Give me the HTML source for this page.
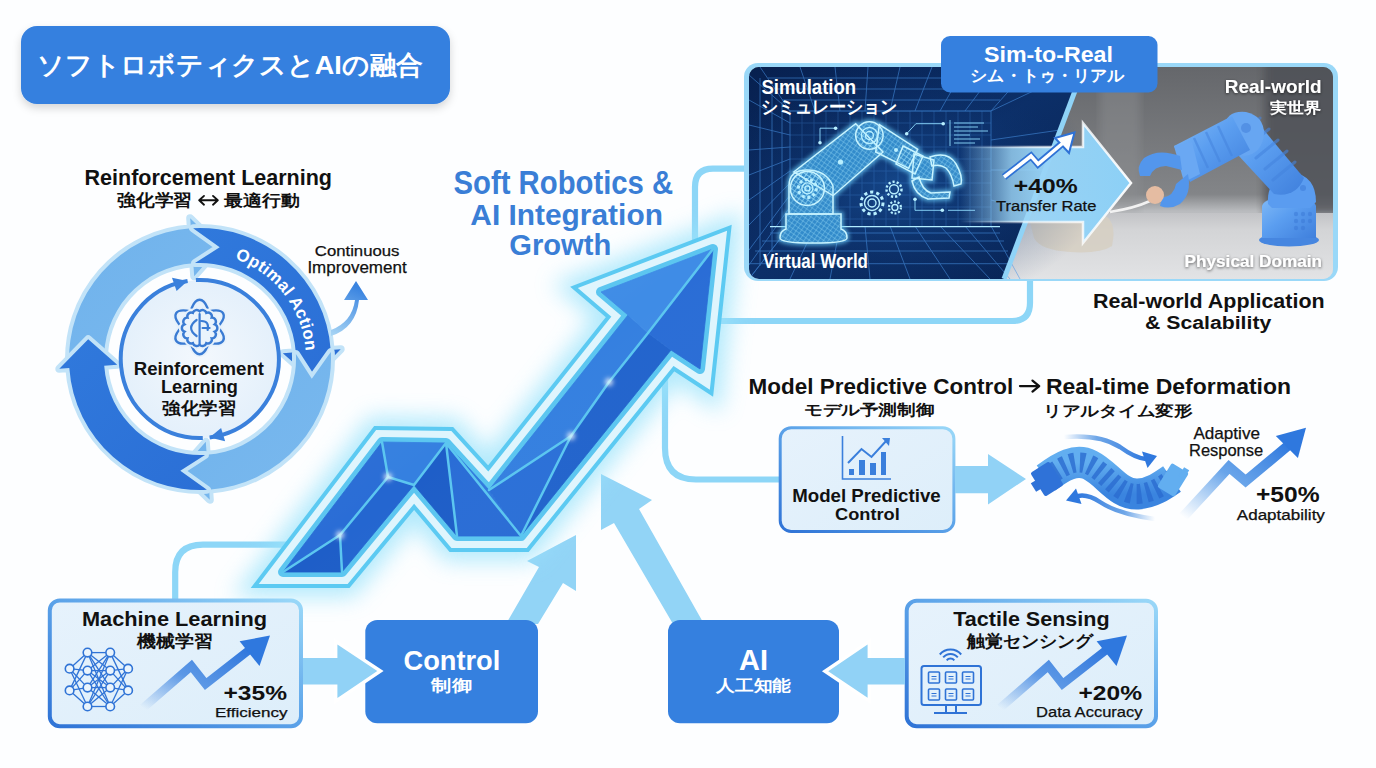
<!DOCTYPE html>
<html><head><meta charset="utf-8">
<style>
html,body{margin:0;padding:0;width:1376px;height:768px;overflow:hidden;background:#fdfeff;}
svg{position:absolute;left:0;top:0;}
text{font-family:"Liberation Sans",sans-serif;}
.b{font-weight:bold;}
</style></head>
<body>
<svg width="1376" height="768" viewBox="0 0 1376 768">
<defs>
  <filter id="sh" x="-10%" y="-20%" width="120%" height="150%"><feDropShadow dx="0" dy="4" stdDeviation="4" flood-color="#000" flood-opacity="0.16"/></filter>
  <filter id="glow" x="-30%" y="-30%" width="160%" height="160%"><feGaussianBlur stdDeviation="11"/></filter>
  <filter id="glow2" x="-50%" y="-50%" width="200%" height="200%"><feGaussianBlur stdDeviation="2.5"/></filter>
  <filter id="blur1"><feGaussianBlur stdDeviation="1"/></filter>
  <linearGradient id="bord" x1="0" y1="1" x2="1" y2="0"><stop offset="0" stop-color="#2f73d6"/><stop offset="0.55" stop-color="#5fa6ea"/><stop offset="1" stop-color="#9ad8f8"/></linearGradient>
  <linearGradient id="boxfill" x1="0" y1="0" x2="1" y2="1"><stop offset="0" stop-color="#e6f2fc"/><stop offset="1" stop-color="#ddeefa"/></linearGradient>
  <linearGradient id="lightseg" x1="0" y1="0" x2="1" y2="1"><stop offset="0" stop-color="#6fb2ec"/><stop offset="1" stop-color="#7ab9ee"/></linearGradient>
  <linearGradient id="darkseg" x1="0" y1="0" x2="1" y2="1"><stop offset="0" stop-color="#3079dc"/><stop offset="1" stop-color="#2b6fd6"/></linearGradient>
  <radialGradient id="innerc" cx="0.5" cy="0.5" r="0.5"><stop offset="0" stop-color="#f3f8fd"/><stop offset="1" stop-color="#e4f0fb"/></radialGradient>
  <linearGradient id="arrowfill" x1="0" y1="1" x2="1" y2="0"><stop offset="0" stop-color="#1f63cc"/><stop offset="0.5" stop-color="#3b86e2"/><stop offset="1" stop-color="#2a70d6"/></linearGradient>
  <linearGradient id="simbg" x1="0" y1="0" x2="1" y2="1"><stop offset="0" stop-color="#07204f"/><stop offset="0.5" stop-color="#0c2f68"/><stop offset="1" stop-color="#072252"/></linearGradient>
  <linearGradient id="photobg" x1="0" y1="0" x2="0" y2="1"><stop offset="0" stop-color="#65676b"/><stop offset="0.6" stop-color="#838588"/><stop offset="0.68" stop-color="#b9bbbe"/><stop offset="1" stop-color="#d9dadd"/></linearGradient>
  <linearGradient id="fade40" x1="960" y1="0" x2="1131" y2="0" gradientUnits="userSpaceOnUse"><stop offset="0" stop-color="#9fd8f8" stop-opacity="0"/><stop offset="0.3" stop-color="#9fd8f8" stop-opacity="0.8"/><stop offset="0.5" stop-color="#98d4f7" stop-opacity="0.97"/><stop offset="1" stop-color="#8cd0f6"/></linearGradient>
  <linearGradient id="fade40s" x1="960" y1="0" x2="1131" y2="0" gradientUnits="userSpaceOnUse"><stop offset="0" stop-color="#fff" stop-opacity="0"/><stop offset="0.4" stop-color="#fff" stop-opacity="0.6"/><stop offset="1" stop-color="#fff" stop-opacity="0.95"/></linearGradient>
  <linearGradient id="trend" x1="0" y1="1" x2="1" y2="0"><stop offset="0" stop-color="#3b82e0" stop-opacity="0"/><stop offset="0.45" stop-color="#3b82e0" stop-opacity="0.8"/><stop offset="1" stop-color="#2d74dc"/></linearGradient>
  <linearGradient id="carrow" x1="0" y1="1" x2="0.3" y2="0"><stop offset="0" stop-color="#a9d6f5"/><stop offset="1" stop-color="#3a84e0"/></linearGradient>
  <linearGradient id="trend3" x1="0" y1="1" x2="1" y2="0"><stop offset="0" stop-color="#5aa0ea" stop-opacity="0"/><stop offset="0.5" stop-color="#4f95e6" stop-opacity="0.85"/><stop offset="1" stop-color="#2f78de"/></linearGradient>
  <path id="oapath" d="M 231 257.6 A 106 106 0 0 1 304.4 377.4" fill="none"/>
  <filter id="tsh" x="-10%" y="-30%" width="120%" height="160%"><feDropShadow dx="0" dy="1" stdDeviation="1.5" flood-color="#000" flood-opacity="0.6"/></filter>
  <linearGradient id="arrowsheen" x1="0" y1="0" x2="1" y2="1"><stop offset="0" stop-color="#fff" stop-opacity="0.08"/><stop offset="0.5" stop-color="#fff" stop-opacity="0"/><stop offset="1" stop-color="#000" stop-opacity="0.05"/></linearGradient>
  <clipPath id="simclip"><rect x="749" y="67" width="584" height="212" rx="10"/></clipPath>
  <path id="ap" d="M283 572 L382 442 L446 443 L489 490 L628 315 L601 292 L713 249 L700 369 L671 350 L521 536 L457 536 L414 485 L342 572 Z"/>
</defs>

<!-- Title -->
<rect x="21" y="26" width="429" height="78" rx="16" fill="#3580df" filter="url(#sh)"/>

<!-- connector lines -->
<g fill="none" stroke="#8dd6f7" stroke-width="6.2">
  <path d="M748 168.6 H713 Q695 168.6 695 187 V303 Q695 321 713 321 H1012 Q1030 321 1030 303 V278"/>
  <path d="M665 330 V448 Q665 479.5 696 479.5 H780"/>
  <path d="M175.2 600 V572 Q175.2 544.6 203 544.6 H292"/>
</g>

<!-- center title -->

<!-- ============ Circle ============ -->
<path d="M199.5 200.3 H217.5 M204 195.9 L199.2 200.3 L204 204.7 M213 195.9 L217.8 200.3 L213 204.7" fill="none" stroke="#111" stroke-width="1.9" stroke-linecap="round" stroke-linejoin="round"/>
<path d="M69.2 365.9 A131 131 0 0 1 190.9 228.3 L190.2 218.3 L219.7 247.2 L194.2 276.2 L193.3 263.2 A96 96 0 0 0 104.1 364.0 L88.2 339.3 Z" fill="url(#lightseg)" stroke="#c2e3f8" stroke-width="8" stroke-linejoin="round" paint-order="stroke"/>
<path d="M193.1 228.2 A131 131 0 0 1 330.7 349.9 L340.7 349.2 L311.8 378.7 L282.8 353.2 L295.8 352.3 A96 96 0 0 0 195.0 263.1 L219.7 247.2 Z" fill="url(#darkseg)" stroke="#c2e3f8" stroke-width="8" stroke-linejoin="round" paint-order="stroke"/>
<path d="M330.8 352.1 A131 131 0 0 1 209.1 489.7 L209.8 499.7 L180.3 470.8 L205.8 441.8 L206.7 454.8 A96 96 0 0 0 295.9 354.0 L311.8 378.7 Z" fill="url(#lightseg)" stroke="#c2e3f8" stroke-width="8" stroke-linejoin="round" paint-order="stroke"/>
<path d="M206.9 489.8 A131 131 0 0 1 69.3 368.1 L59.3 368.8 L88.2 339.3 L117.2 364.8 L104.2 365.7 A96 96 0 0 0 205.0 454.9 L180.3 470.8 Z" fill="url(#darkseg)" stroke="#c2e3f8" stroke-width="8" stroke-linejoin="round" paint-order="stroke"/>
<circle cx="200" cy="359" r="79" fill="url(#innerc)"/><path d="M195.9 280.1 A79 79 0 0 1 209.6 437.4 M202.8 438.0 A79 79 0 0 1 187.6 281.0" fill="none" stroke="#3a80dc" stroke-width="4"/><polygon points="187.6,281.0 172.0,277.7 176.6,290.9" fill="#3a80dc"/><polygon points="209.6,437.4 225.1,441.2 221.1,427.9" fill="#3a80dc"/>
<text font-size="17" fill="#fff" class="b" letter-spacing="0.2"><textPath href="#oapath" startOffset="4">Optimal Action</textPath></text>
<ellipse cx="199.6" cy="327.0" rx="27.2" ry="11" transform="rotate(90 199.6 327.0)" fill="none" stroke="#e6f1fb" stroke-width="6"/>
<ellipse cx="199.6" cy="327.0" rx="27.2" ry="11" transform="rotate(90 199.6 327.0)" fill="none" stroke="#3a7bd3" stroke-width="2.4"/>
<ellipse cx="199.6" cy="327.0" rx="27.2" ry="11" transform="rotate(30 199.6 327.0)" fill="none" stroke="#e6f1fb" stroke-width="6"/>
<ellipse cx="199.6" cy="327.0" rx="27.2" ry="11" transform="rotate(30 199.6 327.0)" fill="none" stroke="#3a7bd3" stroke-width="2.4"/>
<ellipse cx="199.6" cy="327.0" rx="27.2" ry="11" transform="rotate(-30 199.6 327.0)" fill="none" stroke="#e6f1fb" stroke-width="6"/>
<ellipse cx="199.6" cy="327.0" rx="27.2" ry="11" transform="rotate(-30 199.6 327.0)" fill="none" stroke="#3a7bd3" stroke-width="2.4"/>
<path d="M199.6 311.3 A3.9 3.9 0 0 1 206.3 312.9 A3.9 3.9 0 0 1 211.7 317.6 A3.9 3.9 0 0 1 214.7 324.3 A3.9 3.9 0 0 1 214.7 331.7 A3.9 3.9 0 0 1 211.7 338.4 A3.9 3.9 0 0 1 206.3 343.1 A3.9 3.9 0 0 1 199.6 344.7 A3.9 3.9 0 0 1 192.9 343.1 A3.9 3.9 0 0 1 187.5 338.4 A3.9 3.9 0 0 1 184.5 331.7 A3.9 3.9 0 0 1 184.5 324.3 A3.9 3.9 0 0 1 187.5 317.6 A3.9 3.9 0 0 1 192.9 312.9 A3.9 3.9 0 0 1 199.6 311.3 Z" fill="#e9f3fc" stroke="#e6f1fb" stroke-width="6"/>
<path d="M199.6 311.3 A3.9 3.9 0 0 1 206.3 312.9 A3.9 3.9 0 0 1 211.7 317.6 A3.9 3.9 0 0 1 214.7 324.3 A3.9 3.9 0 0 1 214.7 331.7 A3.9 3.9 0 0 1 211.7 338.4 A3.9 3.9 0 0 1 206.3 343.1 A3.9 3.9 0 0 1 199.6 344.7 A3.9 3.9 0 0 1 192.9 343.1 A3.9 3.9 0 0 1 187.5 338.4 A3.9 3.9 0 0 1 184.5 331.7 A3.9 3.9 0 0 1 184.5 324.3 A3.9 3.9 0 0 1 187.5 317.6 A3.9 3.9 0 0 1 192.9 312.9 A3.9 3.9 0 0 1 199.6 311.3 Z" fill="#e9f3fc" stroke="#3a7bd3" stroke-width="2.4"/>
<path d="M199.6 314.0 V344.0 M196.6 320.0 Q185.6 328.0 196.6 336.0 M201.6 321.0 Q209.6 321.0 207.6 330.0 M202.6 328.0 H209.6" fill="none" stroke="#3a7bd3" stroke-width="2.2" stroke-linecap="round"/>
<path d="M331 330 Q352 322 355 300 L344 300 L356 281 L368 300 L359 300 Q356 328 331 336 Z" fill="url(#carrow)"/>

<!-- ============ small up arrows ============ -->
<polygon points="506,624 539,567 527,561 576,535 576,591 563,583 538,624" fill="#92d4f6"/>
<polygon points="673,624 614,523 601,530 601,474 652,500 639,509 704,624" fill="#92d4f6"/>

<g id="bigarrow">
  <use href="#ap" fill="none" stroke="#9ae3fb" stroke-width="50" stroke-linejoin="miter" stroke-miterlimit="12" filter="url(#glow)" opacity="0.75"/>
  <use href="#ap" fill="none" stroke="#5ccaf2" stroke-width="32" stroke-linejoin="miter" stroke-miterlimit="12"/>
  <use href="#ap" fill="none" stroke="#dff5fd" stroke-width="24" stroke-linejoin="miter" stroke-miterlimit="12"/>
  <use href="#ap" fill="none" stroke="#5cc6f0" stroke-width="10" stroke-linejoin="round"/>
  <polygon points="283,572 340,535 342,572" fill="#1e5ec8" stroke="#1e5ec8" stroke-width="0.8"/>
  <polygon points="283,572 382,442 388,477 340,535" fill="#2a6dd6" stroke="#2a6dd6" stroke-width="0.8"/>
  <polygon points="340,535 388,477 414,485 342,572" fill="#2466d0" stroke="#2466d0" stroke-width="0.8"/>
  <polygon points="382,442 446,443 414,485 388,477" fill="#3580e0" stroke="#3580e0" stroke-width="0.8"/>
  <polygon points="446,443 457,536 414,485" fill="#1e5ec8" stroke="#1e5ec8" stroke-width="0.8"/>
  <polygon points="446,443 521,536 457,536" fill="#2a6dd6" stroke="#2a6dd6" stroke-width="0.8"/>
  <polygon points="446,443 489,490 521,536" fill="#3179dd" stroke="#3179dd" stroke-width="0.8"/>
  <polygon points="489,490 571,436 521,536" fill="#2b70d8" stroke="#2b70d8" stroke-width="0.8"/>
  <polygon points="489,490 628,315 648,333 609,382 571,436" fill="#3580e0" stroke="#3580e0" stroke-width="0.8"/>
  <polygon points="571,436 609,382 648,333 671,350 521,536" fill="#2264cd" stroke="#2264cd" stroke-width="0.8"/>
  <polygon points="628,315 601,292 713,249 648,333" fill="#3f8ce6" stroke="#3f8ce6" stroke-width="0.8"/>
  <polygon points="648,333 713,249 700,369 671,350" fill="#2a6dd6" stroke="#2a6dd6" stroke-width="0.8"/>
  <use href="#ap" fill="url(#arrowsheen)"/>
  <path d="M283 572 L340 535 M340 535 L342 572 M340 535 L388 477 M388 477 L382 442 M388 477 L414 485 M414 485 L446 443 M446 443 L457 536 M446 443 L521 536 M489 490 L571 436 M571 436 L521 536 M571 436 L609 382 M609 382 L648 333 M648 333 L713 249" stroke="#5cc6f0" stroke-width="2.5" fill="none" stroke-linecap="round"/>
  <g fill="#fff" filter="url(#glow2)">
    <circle cx="340" cy="535" r="3.5"/><circle cx="388" cy="477" r="3.5"/><circle cx="571" cy="436" r="3.5"/><circle cx="609" cy="382" r="3.5"/>
  </g>
</g>

<!-- ============ Sim panel ============ -->
<rect x="744" y="63" width="594" height="218" rx="14" fill="#9ad8f8"/>
<g clip-path="url(#simclip)">
  <rect x="749" y="67" width="584" height="212" fill="url(#photobg)"/>
  <defs>
  <linearGradient id="rbl" x1="0" y1="0" x2="1" y2="1"><stop offset="0" stop-color="#82bbf7"/><stop offset="0.45" stop-color="#5b9ef0"/><stop offset="1" stop-color="#3f7fdc"/></linearGradient>
  <linearGradient id="tablef" x1="0" y1="0" x2="0" y2="1"><stop offset="0" stop-color="#c2c3c6"/><stop offset="0.25" stop-color="#d3d4d6"/><stop offset="1" stop-color="#e2e3e5"/></linearGradient>
  <filter id="pblur"><feGaussianBlur stdDeviation="4"/></filter>
</defs>
<rect x="1264" y="60" width="80" height="155" fill="#4e5054" opacity="0.8" filter="url(#pblur)"/>
<rect x="1100" y="60" width="40" height="150" fill="#8e9093" opacity="0.45" filter="url(#pblur)"/>
<rect x="1000" y="213" width="333" height="66" fill="url(#tablef)"/>
<path d="M1030 222 Q1060 212 1100 214 Q1118 218 1112 246 Q1100 254 1070 252 Q1040 250 1034 238 Z" fill="#d6cfc2" opacity="0.85"/>
<path d="M1110 212 Q1135 208 1150 201" fill="none" stroke="#f2f2f2" stroke-width="2.5"/>
<ellipse cx="1289" cy="240" rx="30" ry="6.5" fill="#4686e0"/>
<path d="M1262 238 V206 Q1264 198 1289 196 Q1314 198 1316 206 V238 Z" fill="url(#rbl)"/>
<g fill="#3a78d6" opacity="0.5"><circle cx="1296" cy="214" r="2.2"/><circle cx="1303" cy="214" r="2.2"/><circle cx="1310" cy="214" r="2.2"/><circle cx="1296" cy="221" r="2.2"/><circle cx="1303" cy="221" r="2.2"/><circle cx="1310" cy="221" r="2.2"/><circle cx="1296" cy="228" r="2.2"/><circle cx="1303" cy="228" r="2.2"/></g>
<path d="M1268 204 Q1266 178 1292 172 Q1316 176 1316 202 L1310 208 H1272 Z" fill="#5a9cf0"/>
<circle cx="1303" cy="188" r="3" fill="#3a78d6" opacity="0.5"/>
<path d="M1226 142 L1252 116 L1304 178 Q1296 198 1274 194 Z" fill="url(#rbl)"/>
<g stroke="#4584de" stroke-width="3" opacity="0.6" fill="none" stroke-linecap="round"><path d="M1238 136 L1260 118 M1247 147 L1269 129 M1256 158 L1278 140 M1265 169 L1287 151 M1273 180 L1295 162"/></g>
<path d="M1224 128 Q1226 110 1246 112 Q1264 116 1264 134 Q1262 154 1244 156 Q1224 152 1224 128 Z" fill="#67a6f2"/>
<circle cx="1246" cy="128" r="5" fill="#3f7cd8" opacity="0.5"/>
<path d="M1174 146 L1232 116 L1250 150 L1190 182 Z" fill="url(#rbl)"/>
<g stroke="#4584de" stroke-width="2.5" opacity="0.55"><path d="M1194 138 L1208 168 M1206 132 L1220 162 M1218 126 L1232 156"/></g>
<path d="M1174 146 L1192 142 L1200 174 L1184 182 Z" fill="#6aa8f3"/>
<path d="M1180 156 Q1158 148 1144 158 Q1136 166 1140 176 L1150 176 Q1154 166 1166 166 L1182 170 Z" fill="#5396ec"/>
<path d="M1188 174 Q1192 194 1180 204 Q1170 210 1160 206 L1162 198 Q1174 196 1176 184 Z" fill="#5396ec"/>
<circle cx="1155" cy="195" r="9" fill="#e5bca2"/>

  <polygon points="749,67 1084,67 1004,279 749,279" fill="url(#simbg)"/>
  <defs>
  <radialGradient id="simlight" cx="0.45" cy="0.55" r="0.6"><stop offset="0" stop-color="#1a56a0" stop-opacity="0.6"/><stop offset="1" stop-color="#0a2a62" stop-opacity="0"/></radialGradient>
  <pattern id="mesh" width="4" height="4" patternUnits="userSpaceOnUse" patternTransform="rotate(35)"><path d="M0 0 H4 M0 0 V4" stroke="#a8eaff" stroke-width="0.7" opacity="0.85"/></pattern>
  <filter id="cyglow" x="-20%" y="-20%" width="140%" height="140%"><feGaussianBlur stdDeviation="2.2"/></filter>
  <filter id="cyglow4" x="-50%" y="-200%" width="200%" height="500%"><feGaussianBlur stdDeviation="4"/></filter>
</defs>
<rect x="749" y="67" width="335" height="212" fill="url(#simlight)"/>
<g stroke="#4a94e6" stroke-width="0.9" fill="none">
  <g opacity="0.28">
  <path d="M790 111 H991 M790 123 H991 M790 135 H991 M790 147 H991 M790 159 H991 M790 171 H991 M790 183 H991 M790 195 H991 M790 207 H991 M790 219 H991"/>
  <path d="M802 111 V226 M814 111 V226 M826 111 V226 M838 111 V226 M850 111 V226 M862 111 V226 M874 111 V226 M886 111 V226 M898 111 V226 M910 111 V226 M922 111 V226 M934 111 V226 M946 111 V226 M958 111 V226 M970 111 V226 M982 111 V226"/>
  </g>
  <g opacity="0.6">
  <path d="M790 111 V226 M991 111 V226 M790 111 H991"/>
  <path d="M749 75 L790 111 M749 279 L790 226 M749 100 L790 123 M749 125 L790 135 M749 150 L790 147 M749 175 L790 159 M749 200 L790 171 M749 225 L790 183 M749 250 L790 195 M749 265 L790 207"/>
  <path d="M760 78 V266 M772 92 V252 M782 102 V238"/>
  <path d="M790 111 L760 67 M815 111 L800 67 M840 111 L835 67 M865 111 L868 67 M890 111 L900 67 M915 111 L932 67 M940 111 L965 67 M965 111 L998 67 M991 111 L1030 67"/>
  <path d="M775 89 H1010 M768 78 H1020 M782 100 H1000"/>
  <path d="M991 111 L1084 67 M991 226 L1020 279 M991 140 L1060 130 M991 170 L1045 170 M991 200 L1030 210"/>
  <path d="M790 226 L749 279 M815 226 L790 279 M840 226 L830 279 M865 226 L870 279 M890 226 L910 279 M915 226 L950 279 M940 226 L990 279 M965 226 L1010 279"/>
  <path d="M770 233 H1000 M762 241 H1004 M755 251 H1008 M749 263.7 H1012"/>
  </g>
</g>
<line x1="770" y1="226.7" x2="1000" y2="226.7" stroke="#7fd6ff" stroke-width="4" filter="url(#cyglow4)"/>
<line x1="770" y1="226.7" x2="1000" y2="226.7" stroke="#b0ecff" stroke-width="1.2"/>
<!-- robot -->
<g id="simrobot">
  <path d="M780 238 Q780 231 786 229 V214 H841 V229 Q847 231 847 238 Q847 243 813 243 Q780 243 780 238 Z"/>
  <path d="M789 214 V186 Q789 170 807 170 Q826 170 833 186 V214 Z"/>
  <path d="M793.7 172 L855.7 123.7 L883 152 L833 195.7 Z"/>
  <circle cx="869.4" cy="135.5" r="13.7"/>
  <path d="M879.4 124.6 L917.7 149.2 L908.6 168.3 L875.7 152 Z"/>
  <path d="M903 146 L923 156 L915 174 L896 164 Z"/>
  <path d="M914 154 L934 160 L932 180 L912 178 Z"/>
  <path d="M930 157 Q948 151 956 164 Q963 176 961 184 L954 186 Q952 174 946 168 Q940 164 932 166 Z"/>
  <path d="M919 177 Q922 190 931 193 L950 192 L949 198 L928 199 Q915 195 912 181 Z"/>
  <circle cx="807.4" cy="188.4" r="17"/>
</g>
<use href="#simrobot" fill="#4fc0ff" stroke="#6fd3ff" stroke-width="5" opacity="0.7" filter="url(#cyglow)"/>
<use href="#simrobot" fill="#2f8fe0" opacity="0.55"/>
<use href="#simrobot" fill="url(#mesh)" stroke="#c8f4ff" stroke-width="1.5"/>
<g fill="none" stroke="#b8efff" stroke-width="1.4">
  <circle cx="807.4" cy="188.4" r="9" stroke-width="3" stroke-dasharray="3 2.6"/><circle cx="807.4" cy="188.4" r="5.5"/><circle cx="807.4" cy="188.4" r="2.5"/>
  <circle cx="869.4" cy="135.5" r="8"/><circle cx="869.4" cy="135.5" r="4"/>
  <circle cx="872" cy="203" r="11" stroke-width="3" stroke-dasharray="3.2 3"/><circle cx="872" cy="203" r="7.5"/><circle cx="872" cy="203" r="4"/>
  <circle cx="894" cy="189.3" r="7.5" stroke-width="2.4" stroke-dasharray="2.2 2"/><circle cx="894" cy="189.3" r="4.5"/>
  <circle cx="894.9" cy="207.5" r="6" stroke-width="2.2" stroke-dasharray="2 1.8"/><circle cx="894.9" cy="207.5" r="3"/>
  <path d="M820 142.8 V128.2 H835.6 M906.7 133.7 L915.9 123.7 H943.2 M915 199.3 V210.3 H942.3" stroke-width="0.9" stroke="#8fdcff"/>
  <path d="M950 120 V146 M954 123 H984 M954 127 H978 M954 131 H988 M954 135 H970 M954 139 H980 M954 143 H975 M948 210.3 H975" stroke-width="0.9" stroke="#8fdcff"/>
</g>
<g fill="#b8efff"><circle cx="820" cy="142.8" r="1.8"/><circle cx="835.6" cy="128.2" r="1.8"/><circle cx="906.7" cy="133.7" r="1.8"/><circle cx="943.2" cy="123.7" r="1.8"/><circle cx="915" cy="199.3" r="1.8"/><circle cx="942.3" cy="210.3" r="1.8"/><circle cx="840.5" cy="162" r="2.6"/><circle cx="896" cy="150" r="2"/></g>

  <line x1="1084" y1="67" x2="1004" y2="279" stroke="#8fd3f7" stroke-width="5"/>
</g>
<!-- transfer arrow -->
<path d="M960 147 H1083 V123 L1131 183 L1083 243 V222 H960" fill="url(#fade40)" stroke="url(#fade40s)" stroke-width="2.5"/>
<path d="M1004 177 L1031 156 L1038 164 L1064 142" fill="none" stroke="#2f72d6" stroke-width="7" stroke-linejoin="miter"/>
<polygon points="1074.5,132.5 1069,153 1055,138" fill="#fff" stroke="#2f72d6" stroke-width="2" stroke-linejoin="miter"/>
<path d="M1004 177 L1031 156 L1038 164 L1063 143" fill="none" stroke="#fff" stroke-width="3.5" stroke-linejoin="miter"/>
<!-- sim-to-real label -->
<rect x="941" y="36" width="216.5" height="56.5" rx="9" fill="#3580df"/>

<!-- ============ MPC ============ -->
<rect x="780.2" y="427.7" width="173.7" height="103.8" rx="11" fill="url(#boxfill)" stroke="url(#bord)" stroke-width="3"/>
<g stroke="#3a7fdc" fill="none" stroke-width="1.6"><path d="M842.5 436 V479 H891"/><path d="M848 463 L861.5 449 L871.5 457 L887 440" stroke-width="2"/></g>
<polygon points="882,438 890,438 889,446" fill="#3a7fdc"/>
<g fill="#3a7fdc"><rect x="849" y="469" width="5" height="6"/><rect x="859" y="460" width="6" height="15"/><rect x="870" y="463" width="6" height="12"/><rect x="881" y="452" width="5" height="23"/></g>
<path d="M955 466 H988 V454 L1026 479 L988 504.5 V493.3 H955 Z" fill="#91d2f6"/>
<defs>
<linearGradient id="tubeg" x1="0" y1="0" x2="0" y2="1"><stop offset="0" stop-color="#62aef0"/><stop offset="1" stop-color="#3a84df"/></linearGradient>
<linearGradient id="curvA" x1="0" y1="0" x2="1" y2="0"><stop offset="0" stop-color="#4a90e2" stop-opacity="0"/><stop offset="0.4" stop-color="#4a90e2" stop-opacity="0.8"/><stop offset="1" stop-color="#2f78de"/></linearGradient>
<linearGradient id="curvB" x1="1" y1="0" x2="0" y2="0"><stop offset="0" stop-color="#4a90e2" stop-opacity="0"/><stop offset="0.4" stop-color="#4a90e2" stop-opacity="0.8"/><stop offset="1" stop-color="#2f78de"/></linearGradient>
</defs>
<path d="M1064 437 Q1100 434 1120 447 Q1135 458 1146 459" fill="none" stroke="url(#curvA)" stroke-width="4.5"/>
<polygon points="1157,456 1142,451.5 1147.5,468" fill="#2f78de"/>
<path d="M1155 519 Q1118 514 1100 502 Q1088 494 1078 496" fill="none" stroke="url(#curvB)" stroke-width="4.5"/>
<polygon points="1066,500.5 1076,488.5 1081.5,504" fill="#2f78de"/>
<path d="M1046 478 C1062 466 1076 458 1090 465 C1108 474 1118 495 1138 494 C1152 493 1162 486 1172 479" fill="none" stroke="url(#tubeg)" stroke-width="31" stroke-linecap="butt"/>
<path d="M1046 478 C1062 466 1076 458 1090 465 C1108 474 1118 495 1138 494 C1152 493 1162 486 1172 479" fill="none" stroke="#2a6cd0" stroke-width="20" stroke-dasharray="4.5 5" opacity="0.8"/>
<rect x="-11" y="-14" width="22" height="28" rx="2" fill="#2f72d8" transform="translate(1047 479) rotate(-32)"/>
<rect x="-10" y="-14" width="20" height="28" rx="2" fill="#62aef0" transform="translate(1173 480) rotate(32)"/>
<rect x="-3" y="-5" width="6" height="10" fill="#2f72d8" transform="translate(1036 486) rotate(-32)"/>
<rect x="-3" y="-5" width="6" height="10" fill="#62aef0" transform="translate(1184 473) rotate(32)"/>
<path d="M1020 386.1 H1039 M1032.5 380.6 L1039.2 386.1 L1032.5 391.6" fill="none" stroke="#111" stroke-width="2.3" stroke-linecap="round" stroke-linejoin="round"/>
<path d="M1183 517 L1229 467 L1245.6 481 L1290 444" fill="none" stroke="url(#trend3)" stroke-width="10" stroke-linejoin="miter"/>
<polygon points="1306,427.8 1297.9,458 1275.8,436" fill="#2f78de"/>

<!-- ============ bottom boxes ============ -->
<rect x="49.8" y="600.4" width="251.2" height="125.8" rx="10" fill="url(#boxfill)" stroke="url(#bord)" stroke-width="4"/>
<g stroke="#2f73d6" stroke-width="1.3" fill="none">
<line x1="69.6" y1="668.7" x2="87.5" y2="652.6"/>
<line x1="69.6" y1="668.7" x2="87.5" y2="670.6"/>
<line x1="69.6" y1="668.7" x2="87.5" y2="687.6"/>
<line x1="69.6" y1="668.7" x2="87.5" y2="706.5"/>
<line x1="69.6" y1="690.4" x2="87.5" y2="652.6"/>
<line x1="69.6" y1="690.4" x2="87.5" y2="670.6"/>
<line x1="69.6" y1="690.4" x2="87.5" y2="687.6"/>
<line x1="69.6" y1="690.4" x2="87.5" y2="706.5"/>
<line x1="87.5" y1="652.6" x2="110.2" y2="652.6"/>
<line x1="87.5" y1="652.6" x2="110.2" y2="670.6"/>
<line x1="87.5" y1="652.6" x2="110.2" y2="687.6"/>
<line x1="87.5" y1="652.6" x2="110.2" y2="706.5"/>
<line x1="87.5" y1="670.6" x2="110.2" y2="652.6"/>
<line x1="87.5" y1="670.6" x2="110.2" y2="670.6"/>
<line x1="87.5" y1="670.6" x2="110.2" y2="687.6"/>
<line x1="87.5" y1="670.6" x2="110.2" y2="706.5"/>
<line x1="87.5" y1="687.6" x2="110.2" y2="652.6"/>
<line x1="87.5" y1="687.6" x2="110.2" y2="670.6"/>
<line x1="87.5" y1="687.6" x2="110.2" y2="687.6"/>
<line x1="87.5" y1="687.6" x2="110.2" y2="706.5"/>
<line x1="87.5" y1="706.5" x2="110.2" y2="652.6"/>
<line x1="87.5" y1="706.5" x2="110.2" y2="670.6"/>
<line x1="87.5" y1="706.5" x2="110.2" y2="687.6"/>
<line x1="87.5" y1="706.5" x2="110.2" y2="706.5"/>
<line x1="110.2" y1="652.6" x2="128.1" y2="668.7"/>
<line x1="110.2" y1="652.6" x2="128.1" y2="690.4"/>
<line x1="110.2" y1="670.6" x2="128.1" y2="668.7"/>
<line x1="110.2" y1="670.6" x2="128.1" y2="690.4"/>
<line x1="110.2" y1="687.6" x2="128.1" y2="668.7"/>
<line x1="110.2" y1="687.6" x2="128.1" y2="690.4"/>
<line x1="110.2" y1="706.5" x2="128.1" y2="668.7"/>
<line x1="110.2" y1="706.5" x2="128.1" y2="690.4"/>
</g><g stroke="#2f73d6" stroke-width="1.6" fill="#eaf4fc">
<circle cx="69.6" cy="668.7" r="4.3"/>
<circle cx="69.6" cy="690.4" r="4.3"/>
<circle cx="87.5" cy="652.6" r="4.3"/>
<circle cx="87.5" cy="670.6" r="4.3"/>
<circle cx="87.5" cy="687.6" r="4.3"/>
<circle cx="87.5" cy="706.5" r="4.3"/>
<circle cx="110.2" cy="652.6" r="4.3"/>
<circle cx="110.2" cy="670.6" r="4.3"/>
<circle cx="110.2" cy="687.6" r="4.3"/>
<circle cx="110.2" cy="706.5" r="4.3"/>
<circle cx="128.1" cy="668.7" r="4.3"/>
<circle cx="128.1" cy="690.4" r="4.3"/>
</g>
<path d="M143 708 L191.4 666 L205.6 684 L253 647" fill="none" stroke="url(#trend)" stroke-width="8.5" stroke-linejoin="miter"/>
<polygon points="270,635.6 259.5,666 239.6,641.3" fill="#2f78de"/>
<rect x="365.3" y="620" width="172.7" height="103.2" rx="12" fill="#3580df"/>

<rect x="668" y="620" width="171" height="103.2" rx="12" fill="#3580df"/>
<rect x="906.7" y="600.8" width="249.3" height="125.4" rx="10" fill="url(#boxfill)" stroke="url(#bord)" stroke-width="4"/>
<g fill="none" stroke="#2f73d6" stroke-width="2">
<rect x="921.5" y="666" width="59.5" height="39" rx="2.5"/>
<path d="M946 706 V712.5 M956 706 V712.5 M934 713 H967"/>
<path d="M946.7 660.3 A5.0 5.0 0 0 1 954.3 660.3"/>
<path d="M943.2 657.4 A9.5 9.5 0 0 1 957.8 657.4"/>
<path d="M939.8 654.5 A14.0 14.0 0 0 1 961.2 654.5"/>
</g><g fill="none" stroke="#2f73d6" stroke-width="1.6">
<rect x="928.5" y="672.0" width="11" height="11" rx="1"/>
<path d="M931.5 676.5 h5 M931.5 679.0 h5" stroke-width="1"/>
<rect x="928.5" y="689.0" width="11" height="11" rx="1"/>
<path d="M931.5 693.5 h5 M931.5 696.0 h5" stroke-width="1"/>
<rect x="945.5" y="672.0" width="11" height="11" rx="1"/>
<path d="M948.5 676.5 h5 M948.5 679.0 h5" stroke-width="1"/>
<rect x="945.5" y="689.0" width="11" height="11" rx="1"/>
<path d="M948.5 693.5 h5 M948.5 696.0 h5" stroke-width="1"/>
<rect x="962.5" y="672.0" width="11" height="11" rx="1"/>
<path d="M965.5 676.5 h5 M965.5 679.0 h5" stroke-width="1"/>
<rect x="962.5" y="689.0" width="11" height="11" rx="1"/>
<path d="M965.5 693.5 h5 M965.5 696.0 h5" stroke-width="1"/>
</g>
<polygon points="337.4,644.6 377.3,671 337.4,698" fill="none" stroke="#fff" stroke-width="7" stroke-linejoin="miter"/>
<path d="M303 658 H337.4 V644.6 L377.3 671 L337.4 698 V684.5 H303 Z" fill="#91d2f6"/>
<polygon points="867.6,644.6 828.2,671.2 867.6,697.7" fill="none" stroke="#fff" stroke-width="7" stroke-linejoin="miter"/>
<path d="M905 658 H867.6 V644.6 L828.2 671.2 L867.6 697.7 V684.5 H905 Z" fill="#91d2f6"/>
<path d="M1000 708 L1048.3 666 L1062.5 684 L1110 647" fill="none" stroke="url(#trend)" stroke-width="8.5" stroke-linejoin="miter"/>
<polygon points="1127,635.6 1116.5,666 1096.6,641.3" fill="#2f78de"/>
<text x="37.00" y="74.12" font-size="26.23" fill="#fff" font-weight="bold" textLength="386.10" lengthAdjust="spacingAndGlyphs">ソフトロボティクスとAIの融合</text>
<text x="453.50" y="193.60" font-size="32.37" fill="#3a7ed6" font-weight="bold" textLength="219.70" lengthAdjust="spacingAndGlyphs">Soft Robotics &amp;</text>
<text x="470.30" y="224.50" font-size="29.91" fill="#3a7ed6" font-weight="bold" textLength="192.60" lengthAdjust="spacingAndGlyphs">AI Integration</text>
<text x="509.30" y="255.40" font-size="29.85" fill="#3a7ed6" font-weight="bold" textLength="102.00" lengthAdjust="spacingAndGlyphs">Growth</text>
<text x="84.50" y="184.80" font-size="22.90" fill="#111" font-weight="bold" textLength="247.50" lengthAdjust="spacingAndGlyphs">Reinforcement Learning</text>
<text x="117.40" y="205.72" font-size="17.43" fill="#111" font-weight="bold" textLength="74.80" lengthAdjust="spacingAndGlyphs">強化学習</text>
<text x="224.40" y="205.80" font-size="16.28" fill="#111" font-weight="bold" textLength="75.40" lengthAdjust="spacingAndGlyphs">最適行動</text>
<text x="133.80" y="374.50" font-size="19.15" fill="#111" font-weight="bold" textLength="130.20" lengthAdjust="spacingAndGlyphs">Reinforcement</text>
<text x="161.00" y="393.10" font-size="19.12" fill="#111" font-weight="bold" textLength="76.90" lengthAdjust="spacingAndGlyphs">Learning</text>
<text x="162.00" y="414.35" font-size="17.34" fill="#111" font-weight="bold" textLength="74.00" lengthAdjust="spacingAndGlyphs">強化学習</text>
<text x="314.80" y="256.30" font-size="14.61" fill="#111" textLength="84.70" lengthAdjust="spacingAndGlyphs" stroke="#111" stroke-width="0.25">Continuous</text>
<text x="307.40" y="272.60" font-size="16.76" fill="#111" textLength="99.30" lengthAdjust="spacingAndGlyphs" stroke="#111" stroke-width="0.25">Improvement</text>
<text x="761.40" y="93.50" font-size="20.90" fill="#fff" font-weight="bold" textLength="94.70" lengthAdjust="spacingAndGlyphs">Simulation</text>
<text x="760.60" y="113.18" font-size="18.06" fill="#fff" font-weight="bold" textLength="136.90" lengthAdjust="spacingAndGlyphs">シミュレーション</text>
<text x="763.00" y="267.70" font-size="19.84" fill="#fff" font-weight="bold" textLength="105.00" lengthAdjust="spacingAndGlyphs">Virtual World</text>
<text x="1224.80" y="93.00" font-size="17.88" fill="#fff" font-weight="bold" textLength="96.90" lengthAdjust="spacingAndGlyphs" filter="url(#tsh)">Real-world</text>
<text x="1269.60" y="112.88" font-size="14.51" fill="#fff" font-weight="bold" textLength="51.40" lengthAdjust="spacingAndGlyphs" filter="url(#tsh)">実世界</text>
<text x="1184.60" y="267.40" font-size="16.66" fill="#fff" font-weight="bold" textLength="137.40" lengthAdjust="spacingAndGlyphs" filter="url(#tsh)">Physical Domain</text>
<text x="1013.80" y="193.20" font-size="21.00" fill="#111" font-weight="bold" textLength="63.80" lengthAdjust="spacingAndGlyphs">+40%</text>
<text x="996.00" y="211.20" font-size="14.47" fill="#111" textLength="100.40" lengthAdjust="spacingAndGlyphs" stroke="#111" stroke-width="0.25">Transfer Rate</text>
<text x="984.00" y="62.00" font-size="22.12" fill="#fff" font-weight="bold" textLength="128.90" lengthAdjust="spacingAndGlyphs">Sim-to-Real</text>
<text x="970.40" y="81.46" font-size="16.21" fill="#fff" font-weight="bold" textLength="153.60" lengthAdjust="spacingAndGlyphs">シム・トゥ・リアル</text>
<text x="1093.00" y="308.00" font-size="20.82" fill="#111" font-weight="bold" textLength="231.60" lengthAdjust="spacingAndGlyphs">Real-world Application</text>
<text x="1145.00" y="328.80" font-size="18.97" fill="#111" font-weight="bold" textLength="126.30" lengthAdjust="spacingAndGlyphs">&amp; Scalability</text>
<text x="748.60" y="394.30" font-size="21.45" fill="#111" font-weight="bold" textLength="264.60" lengthAdjust="spacingAndGlyphs">Model Predictive Control</text>
<text x="1046.00" y="394.30" font-size="21.45" fill="#111" font-weight="bold" textLength="245.00" lengthAdjust="spacingAndGlyphs">Real-time Deformation</text>
<text x="804.00" y="415.45" font-size="15.40" fill="#111" font-weight="bold" textLength="130.10" lengthAdjust="spacingAndGlyphs">モデル予測制御</text>
<text x="1043.10" y="415.70" font-size="14.55" fill="#111" font-weight="bold" textLength="149.50" lengthAdjust="spacingAndGlyphs">リアルタイム変形</text>
<text x="792.20" y="501.50" font-size="18.02" fill="#111" font-weight="bold" textLength="148.50" lengthAdjust="spacingAndGlyphs">Model Predictive</text>
<text x="835.10" y="519.80" font-size="16.89" fill="#111" font-weight="bold" textLength="64.70" lengthAdjust="spacingAndGlyphs">Control</text>
<text x="1193.40" y="439.00" font-size="16.70" fill="#111" textLength="66.60" lengthAdjust="spacingAndGlyphs" stroke="#111" stroke-width="0.25">Adaptive</text>
<text x="1189.00" y="455.60" font-size="17.32" fill="#111" textLength="74.20" lengthAdjust="spacingAndGlyphs" stroke="#111" stroke-width="0.25">Response</text>
<text x="1256.00" y="502.00" font-size="22.00" fill="#111" font-weight="bold" textLength="63.60" lengthAdjust="spacingAndGlyphs">+50%</text>
<text x="1236.80" y="519.60" font-size="14.03" fill="#111" textLength="88.10" lengthAdjust="spacingAndGlyphs" stroke="#111" stroke-width="0.25">Adaptability</text>
<text x="81.90" y="626.20" font-size="20.64" fill="#111" font-weight="bold" textLength="185.10" lengthAdjust="spacingAndGlyphs">Machine Learning</text>
<text x="137.20" y="646.94" font-size="17.00" fill="#111" font-weight="bold" textLength="76.20" lengthAdjust="spacingAndGlyphs">機械学習</text>
<text x="223.50" y="699.90" font-size="20.88" fill="#111" font-weight="bold" textLength="63.50" lengthAdjust="spacingAndGlyphs">+35%</text>
<text x="215.00" y="716.90" font-size="13.36" fill="#111" textLength="72.60" lengthAdjust="spacingAndGlyphs" stroke="#111" stroke-width="0.25">Efficiency</text>
<text x="403.50" y="669.50" font-size="28.25" fill="#fff" font-weight="bold" textLength="96.80" lengthAdjust="spacingAndGlyphs">Control</text>
<text x="431.40" y="691.31" font-size="15.90" fill="#fff" font-weight="bold" textLength="40.40" lengthAdjust="spacingAndGlyphs">制御</text>
<text x="739.10" y="669.50" font-size="29.76" fill="#fff" font-weight="bold" textLength="28.90" lengthAdjust="spacingAndGlyphs">AI</text>
<text x="716.00" y="691.16" font-size="16.31" fill="#fff" font-weight="bold" textLength="75.00" lengthAdjust="spacingAndGlyphs">人工知能</text>
<text x="953.30" y="626.20" font-size="19.37" fill="#111" font-weight="bold" textLength="156.30" lengthAdjust="spacingAndGlyphs">Tactile Sensing</text>
<text x="967.00" y="646.78" font-size="17.19" fill="#111" font-weight="bold" textLength="126.20" lengthAdjust="spacingAndGlyphs">触覚センシング</text>
<text x="1078.50" y="699.90" font-size="20.88" fill="#111" font-weight="bold" textLength="63.50" lengthAdjust="spacingAndGlyphs">+20%</text>
<text x="1036.00" y="716.90" font-size="14.63" fill="#111" textLength="106.60" lengthAdjust="spacingAndGlyphs" stroke="#111" stroke-width="0.25">Data Accuracy</text>
</svg>
</body></html>
